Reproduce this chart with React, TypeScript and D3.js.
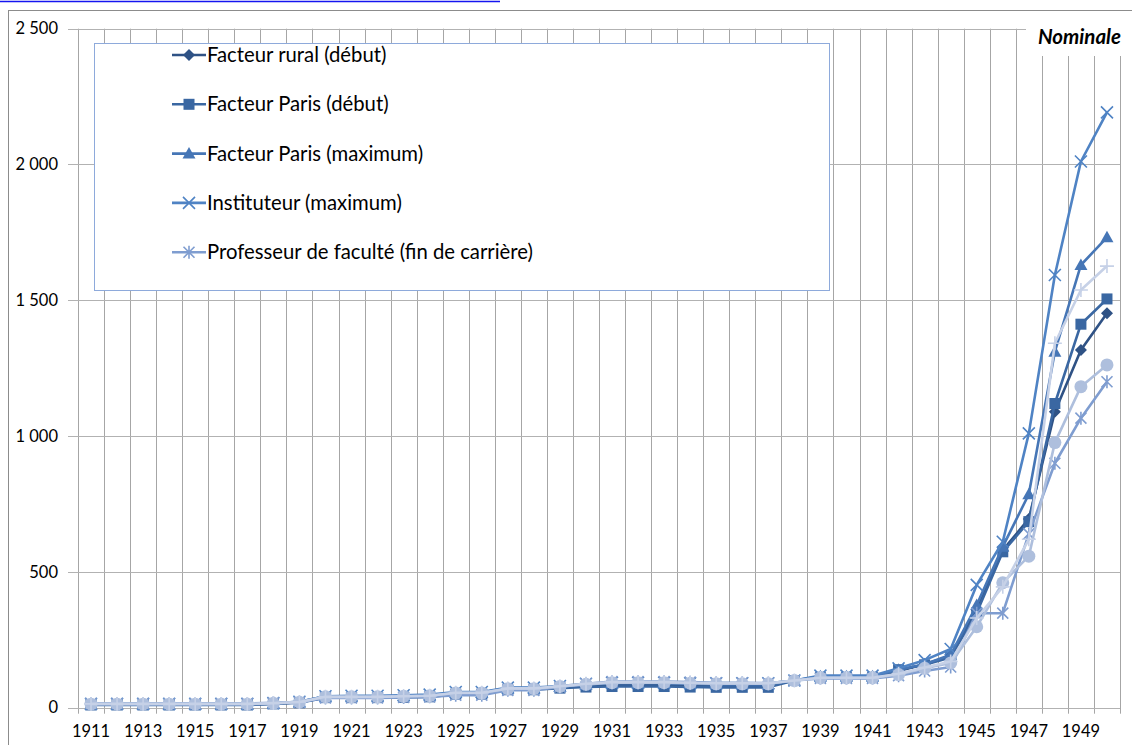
import * as d3 from 'd3';

const W = 1132;
const H = 745;
const FONT = 'Lato, "Open Sans", sans-serif';

const YEARS = [
  1911, 1912, 1913, 1914, 1915, 1916, 1917, 1918, 1919, 1920,
  1921, 1922, 1923, 1924, 1925, 1926, 1927, 1928, 1929, 1930,
  1931, 1932, 1933, 1934, 1935, 1936, 1937, 1938, 1939, 1940,
  1941, 1942, 1943, 1944, 1945, 1946, 1947, 1948, 1949, 1950,
];

const Y_TICKS = [0, 500, 1000, 1500, 2000, 2500];

// index, 1938 = 100
const FACTEUR_RURAL = [
  12, 12, 12, 12, 12, 12, 12, 15, 20, 38,
  38, 38, 40, 42, 52, 52, 68, 68, 75, 82,
  84, 84, 84, 82, 80, 80, 82, 100, 112, 112,
  112, 135, 160, 190, 360, 580, 695, 1090, 1317, 1452,
];
const FACTEUR_PARIS_DEBUT = [
  10, 10, 10, 10, 10, 10, 10, 14, 18, 37,
  37, 37, 38, 40, 50, 50, 66, 66, 72, 76,
  78, 78, 78, 76, 75, 75, 75, 100, 112, 112,
  112, 140, 158, 185, 350, 574, 685, 1120, 1412, 1505,
];
const FACTEUR_PARIS_MAX = [
  13, 13, 13, 13, 13, 13, 13, 16, 22, 42,
  42, 42, 44, 46, 56, 56, 72, 72, 78, 86,
  90, 90, 90, 88, 86, 86, 86, 100, 116, 116,
  116, 140, 160, 195, 378, 593, 786, 1311, 1630, 1732,
];
const INSTITUTEUR_MAX = [
  14, 14, 14, 14, 14, 14, 14, 17, 22, 42,
  44, 44, 46, 48, 58, 58, 74, 74, 80, 88,
  92, 92, 92, 90, 90, 90, 90, 100, 118, 118,
  118, 145, 175, 216, 452, 611, 1010, 1593, 2011, 2192,
];
const PROFESSEUR_FIN = [
  15, 15, 15, 15, 15, 15, 15, 18, 20, 36,
  36, 36, 38, 40, 46, 46, 64, 64, 76, 88,
  96, 96, 96, 94, 92, 92, 90, 100, 108, 108,
  108, 118, 135, 150, 348, 348, 640, 900, 1066, 1200,
];
const SERIE_CERCLE = [
  13, 13, 13, 13, 13, 13, 13, 16, 20, 40,
  40, 40, 42, 44, 54, 54, 70, 70, 78, 86,
  92, 92, 92, 90, 88, 88, 88, 100, 110, 110,
  110, 122, 145, 165, 298, 460, 558, 976, 1182, 1262,
];
const SERIE_PLUS = [
  14, 14, 14, 14, 14, 14, 14, 17, 21, 40,
  40, 40, 42, 44, 55, 55, 71, 71, 79, 88,
  94, 94, 94, 92, 90, 90, 90, 100, 110, 110,
  110, 125, 148, 170, 330, 445, 620, 1342, 1538, 1626,
];

type Marker = 'diamond' | 'square' | 'triangle' | 'x' | 'star' | 'circle' | 'plus';

const SERIES: { name: string; values: number[]; color: string; marker: Marker; legend: boolean }[] = [
  { name: 'Facteur rural (début)', values: FACTEUR_RURAL, color: '#2F5285', marker: 'diamond', legend: true },
  { name: 'Facteur Paris (début)', values: FACTEUR_PARIS_DEBUT, color: '#3A67A2', marker: 'square', legend: true },
  { name: 'Facteur Paris (maximum)', values: FACTEUR_PARIS_MAX, color: '#4676B6', marker: 'triangle', legend: true },
  { name: 'Instituteur (maximum)', values: INSTITUTEUR_MAX, color: '#4F83C4', marker: 'x', legend: true },
  { name: 'Professeur de faculté (fin de carrière)', values: PROFESSEUR_FIN, color: '#7F9DD0', marker: 'star', legend: true },
  { name: '', values: SERIE_CERCLE, color: '#AEBFDD', marker: 'circle', legend: false },
  { name: '', values: SERIE_PLUS, color: '#C6D1E7', marker: 'plus', legend: false },
];

const fr = d3.formatLocale({ decimal: ',', thousands: '\u00a0', grouping: [3], currency: ['', ''] });
const fmt = fr.format(',d');

function MarkerShape({ kind, x, y, color }: { kind: Marker; x: number; y: number; color: string }) {
  switch (kind) {
    case 'diamond':
      return <path d={`M${x},${y - 6}L${x + 6},${y}L${x},${y + 6}L${x - 6},${y}Z`} fill={color} />;
    case 'square':
      return <rect x={x - 5.5} y={y - 5.5} width={11} height={11} fill={color} />;
    case 'triangle':
      return <path d={`M${x},${y - 6.5}L${x + 6.5},${y + 5}L${x - 6.5},${y + 5}Z`} fill={color} />;
    case 'circle':
      return <circle cx={x} cy={y} r={6.5} fill={color} />;
    case 'x':
      return (
        <path
          d={`M${x - 6},${y - 6}L${x + 6},${y + 6}M${x - 6},${y + 6}L${x + 6},${y - 6}`}
          stroke={color}
          strokeWidth={1.6}
        />
      );
    case 'star':
      return (
        <path
          d={`M${x - 5.5},${y - 5.5}L${x + 5.5},${y + 5.5}M${x - 5.5},${y + 5.5}L${x + 5.5},${y - 5.5}M${x},${y - 6.5}L${x},${y + 6.5}`}
          stroke={color}
          strokeWidth={1.6}
        />
      );
    case 'plus':
      return (
        <path d={`M${x - 7},${y}L${x + 7},${y}M${x},${y - 7}L${x},${y + 7}`} stroke={color} strokeWidth={1.6} />
      );
  }
}

export default function App() {
  const x = d3.scaleBand<number>().domain(YEARS).range([78, 1120]);
  const y = d3.scaleLinear().domain([0, 2500]).range([707.7, 28.7]);
  const cx = (yr: number) => (x(yr) ?? 0) + x.bandwidth() / 2;

  const line = d3
    .line<number>()
    .x((_, i) => cx(YEARS[i]))
    .y((v) => y(v));

  const boundaries = [...YEARS.map((yr) => x(yr) ?? 0), x.range()[1]];
  const legendItems = SERIES.filter((s) => s.legend);

  return (
    <svg
      width={W}
      height={H}
      style={{ position: 'absolute', left: 0, top: 0, background: '#fff' }}
      fontFamily={FONT}
    >
      <rect width={W} height={H} fill="#fff" />
      {/* hyperlink underline cut at top */}
      <line x1={0} x2={500} y1={1.5} y2={1.5} stroke="#1515F0" strokeWidth={1.5} />
      {/* chart frame */}
      <rect x={8.5} y={10.5} width={1300} height={900} fill="none" stroke="#8C8C8C" />

      {/* vertical gridlines */}
      {boundaries.map((bx, i) => (
        <line
          key={`v${i}`}
          x1={Math.round(bx) + 0.5}
          x2={Math.round(bx) + 0.5}
          y1={y(2500)}
          y2={y(0) + 6}
          stroke="#A6A6A6"
        />
      ))}
      {/* horizontal gridlines */}
      {Y_TICKS.map((t) => (
        <line
          key={`h${t}`}
          x1={68}
          x2={1120}
          y1={Math.round(y(t)) + 0.5}
          y2={Math.round(y(t)) + 0.5}
          stroke="#B2B2B2"
        />
      ))}

      {/* y labels */}
      {Y_TICKS.map((t) => (
        <text key={`yl${t}`} x={58} y={y(t)} dy="0.35em" textAnchor="end" fontSize={16.5} fill="#000">
          {fmt(t)}
        </text>
      ))}
      {/* x labels */}
      {YEARS.filter((_, i) => i % 2 === 0).map((yr) => (
        <text key={`xl${yr}`} x={cx(yr)} y={737} textAnchor="middle" fontSize={16.5} fill="#000">
          {yr}
        </text>
      ))}

      {/* series */}
      {SERIES.map((s) => (
        <g key={s.color}>
          <path d={line(s.values) ?? ''} fill="none" stroke={s.color} strokeWidth={2.6} strokeLinejoin="round" />
          {s.values.map((v, i) => (
            <MarkerShape key={i} kind={s.marker} x={cx(YEARS[i])} y={y(v)} color={s.color} />
          ))}
        </g>
      ))}

      {/* title box */}
      <rect x={1026} y={19} width={106} height={37} fill="#fff" />
      <text x={1121} y={44} textAnchor="end" fontSize={20.5} fontWeight="bold" fontStyle="italic" fill="#000">
        Nominale
      </text>

      {/* legend */}
      <rect x={94.5} y={43.5} width={735} height={247} fill="#fff" stroke="#8EAADB" />
      {legendItems.map((s, i) => {
        const ly = 55 + i * 49.3;
        return (
          <g key={s.name}>
            <line x1={172} x2={206} y1={ly} y2={ly} stroke={s.color} strokeWidth={2.6} />
            <MarkerShape kind={s.marker} x={189} y={ly} color={s.color} />
            <text x={207} y={ly} dy="0.35em" fontSize={20.3} fill="#000">
              {s.name}
            </text>
          </g>
        );
      })}
    </svg>
  );
}
